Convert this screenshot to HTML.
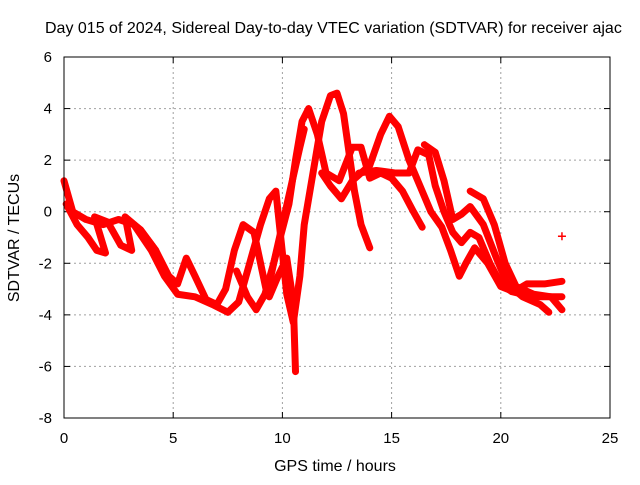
<!DOCTYPE html>
<html><head><meta charset="utf-8"><style>
body{margin:0;background:#fff}
svg text{font-family:"Liberation Sans",sans-serif;font-size:15px;fill:#000}
</style></head><body>
<svg id="chart" width="640" height="480" viewBox="0 0 640 480" xmlns="http://www.w3.org/2000/svg">
<rect width="640" height="480" fill="#fff"/>
<text x="45" y="33" style="font-size:16px">Day 015 of 2024, Sidereal Day-to-day VTEC variation (SDTVAR) for receiver ajac</text>
<g id="grid"></g>
<g id="ticks"></g>
<g id="series"></g>
<rect x="64" y="57" width="546" height="361" fill="none" stroke="#000" stroke-width="1"/>
<text x="335" y="471" text-anchor="middle" style="font-size:16px">GPS time / hours</text>
<text transform="translate(19,238) rotate(-90)" text-anchor="middle" style="font-size:16px">SDTVAR / TECUs</text>
</svg>
<script>
const xTicks=[0,5,10,15,20,25];
const yTicks=[6,4,2,0,-2,-4,-6,-8];
const track1=[[0,1.2],[0.4,0],[1,-0.3],[1.8,-0.5],[2.5,-0.3],[3.2,-0.5],[4,-1.5],[4.6,-2.5],[5.2,-3.2],[6,-3.3],[6.8,-3.6],[7.5,-3.9],[8,-3.5],[8.5,-2],[9,-0.5],[9.4,0.5],[9.7,0.8],[9.9,-0.8],[10.2,-3.2],[10.5,-4.3],[10.8,-2.5],[11,-0.5],[11.4,1.5],[11.8,3.5],[12.2,4.5],[12.5,4.6],[12.8,3.8],[13.1,2],[13.3,0.8],[13.6,-0.5],[14,-1.4]];
const track2=[[0.1,0.3],[0.6,-0.5],[1.1,-1],[1.5,-1.5],[1.9,-1.6],[1.4,-0.2],[2,-0.4],[2.6,-1.3],[3.1,-1.5],[2.8,-0.2],[3.5,-0.7],[4.2,-1.5]];
const track3=[[2.9,-0.3],[3.5,-0.7],[4.2,-1.5],[4.8,-2.5],[5.2,-2.8],[5.6,-1.8],[6,-2.5],[6.5,-3.4],[7,-3.6],[7.4,-3.0],[7.8,-1.5],[8.2,-0.5],[8.7,-0.8],[9,-2],[9.3,-3.2],[9.6,-2],[9.9,-1],[10.3,0.3],[10.6,2],[10.9,3.5],[11.2,4],[11.6,3],[12,1.5],[12.6,1.2],[13.2,2.5],[13.6,2.5],[14,1.3],[14.5,1.5],[15,1.3],[15.5,0.8],[16,0],[16.4,-0.6]];
const track4=[[11.8,1.5],[12.2,1],[12.7,0.5],[13.2,1.2],[14,1.8],[14.5,3],[14.9,3.7],[15.3,3.3],[15.8,2],[16.3,1],[16.8,0],[17.3,-0.6],[17.7,-1.5],[18.1,-2.5],[18.4,-2],[18.8,-1.4],[19.4,-2],[20,-2.9],[20.6,-3.1],[21.2,-2.8],[22,-2.8],[22.8,-2.7]];
const track5=[[13.5,1.5],[14.3,1.6],[15.2,1.5],[15.8,1.5],[16.2,2.4],[16.7,2.2],[17,1],[17.4,0],[17.8,-0.8],[18.2,-1.2],[18.6,-0.8],[19,-1],[19.5,-2],[20,-2.8],[20.5,-3.1],[21.5,-3.3],[22.8,-3.3]];
const track6=[[16.5,2.6],[17,2.3],[17.4,1.2],[17.8,-0.3],[18.2,-0.1],[18.6,0.2],[19.2,-0.5],[19.8,-1.8],[20.3,-2.8],[21,-3.3],[21.8,-3.6],[22.2,-3.9]];
const track7=[[18.6,0.8],[19.2,0.5],[19.7,-0.5],[20.2,-2],[20.7,-2.9],[21.5,-3.2],[22.3,-3.3],[22.8,-3.8]];
const track8=[[9.4,-3.3],[9.8,-2.5],[10.2,-1.8],[10.5,-3.5],[10.6,-6.2]];
const track9=[[7.9,-2.3],[8.4,-3.3],[8.8,-3.8],[9.2,-3.2],[9.6,-2],[10,-0.5],[10.4,1],[10.8,2.5],[11,3.2]];
const outliers=[[22.8,-0.95]];
const tracks=[track1,track2,track3,track4,track5,track6,track7,track8,track9];
const X=v=>64+v*(546/25), Y=v=>57+(6-v)*(361/14);
const NS="http://www.w3.org/2000/svg";
const grid=document.getElementById('grid'),ticks=document.getElementById('ticks'),ser=document.getElementById('series');
function mk(t,a,p){const e=document.createElementNS(NS,t);for(const k in a)e.setAttribute(k,a[k]);p.appendChild(e);return e;}
xTicks.forEach(t=>{const x=X(t);
 if(t>0&&t<25){const l=mk('line',{x1:x,x2:x,y1:57,y2:418,stroke:'#a0a0a0','stroke-dasharray':'2,3'},grid);
 
 }
 mk('line',{x1:x,x2:x,y1:418,y2:412,stroke:'#000'},ticks);mk('line',{x1:x,x2:x,y1:57,y2:63,stroke:'#000'},ticks);
 const tx=mk('text',{x:x,y:443,'text-anchor':'middle'},ticks);tx.textContent=t;
 
 });
yTicks.forEach(t=>{const y=Y(t);
 if(t<6&&t>-8){const l=mk('line',{x1:64,x2:610,y1:y,y2:y,stroke:'#a0a0a0','stroke-dasharray':'2,3'},grid);
 
 }
 mk('line',{x1:64,x2:70,y1:y,y2:y,stroke:'#000'},ticks);mk('line',{x1:610,x2:604,y1:y,y2:y,stroke:'#000'},ticks);
 const tx=mk('text',{x:52,y:y+5,'text-anchor':'end'},ticks);tx.textContent=t;
 
 });
tracks.forEach(tr=>{const p=mk('polyline',{points:tr.map(d=>X(d[0])+','+Y(d[1])).join(' '),fill:'none',stroke:'#ff0000','stroke-width':7,'stroke-linejoin':'round','stroke-linecap':'round'},ser);
 
 });
outliers.forEach(d=>{const p=mk('path',{d:`M${X(d[0])-4},${Y(d[1])}h8M${X(d[0])},${Y(d[1])-4}v8`,stroke:'#ff0000','stroke-width':1.5},ser);
 
 });
</script>
</body></html>
